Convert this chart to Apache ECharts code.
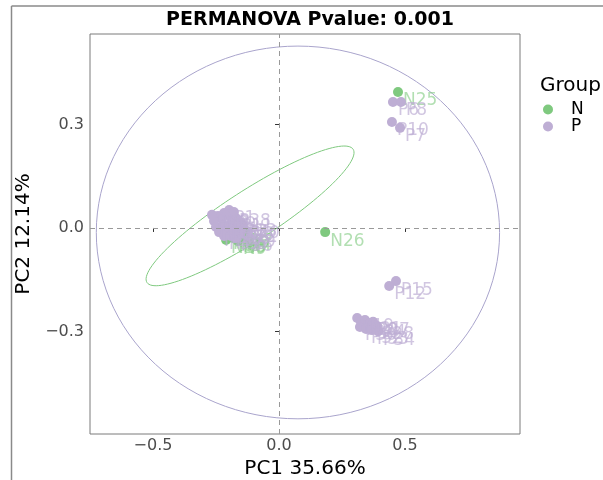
<!DOCTYPE html>
<html>
<head>
<meta charset="utf-8">
<script src="https://cdn.jsdelivr.net/npm/echarts@6/dist/echarts.min.js"></script>
<style>html,body{margin:0;padding:0;background:#fff}#c{width:603px;height:480px}</style>
</head>
<body>
<div id="c"></div>
<script>
// ---- data ----
const groupNames = ['N', 'P'];
const nNames = ['N1','N2','N3','N4','N5','N6','N7','N8','N9','N10','N25','N26'];
const nX = [-0.202,-0.183,-0.163,-0.143,-0.171,-0.151,-0.135,-0.190,-0.163,-0.210, 0.472, 0.183];
const nY = [-0.023,-0.029,-0.032,-0.026,-0.017,-0.020,-0.012,-0.014,-0.038,-0.035, 0.394,-0.012];

const pNames = ['P1','P2','P3','P4','P5','P9','P11','P13','P14','P16','P17','P18','P22','P23','P25','P26','P29','P31','P35','P36','P37','P38','P39','P40',
  'P6','P8','P10','P7','P15','P12',
  'P19','P20','P21','P24','P27','P28','P30','P32','P33','P34'];
const pX = [-0.198,-0.218,-0.242,-0.258,-0.226,-0.194,-0.171,-0.155,-0.250,-0.222,-0.190,-0.167,-0.151,-0.238,-0.210,-0.183,-0.159,-0.218,-0.190,-0.171,-0.202,-0.179,-0.266,-0.143,
  0.452, 0.484, 0.448, 0.480, 0.464, 0.437,
  0.310, 0.325, 0.341, 0.357, 0.373, 0.389, 0.321, 0.345, 0.369, 0.393];
const pY = [ 0.052, 0.043, 0.035, 0.020, 0.026, 0.035, 0.029, 0.017, 0.003, 0.009, 0.014, 0.006,-0.003,-0.012,-0.006,-0.009,-0.017,-0.023,-0.023,-0.029, 0.003, 0.046, 0.038, 0.009,
  0.365, 0.365, 0.307, 0.290,-0.154,-0.168,
 -0.261,-0.272,-0.267,-0.278,-0.272,-0.284,-0.287,-0.293,-0.296,-0.299];

// ellipse of group N (centre, semi-axis vectors in data units)
const nEllipseCenter = [-0.115, 0.035];
const nEllipseAxisA = [0.409, 0.193];
const nEllipseAxisB = [0.054, -0.061];
// outer reference ring (centre, radii in data units)
const ringCenter = [0.075, -0.013];
const ringRadii = [0.80, 0.54];

const xTicks = [-0.5, 0, 0.5];
const yTicks = [-0.3, 0, 0.3];

// ---- chart ----
const colN = '#7FC97F', colP = '#BEAED4';
const FONT = 'DejaVu Sans';
function fmt(v){ const s = Math.abs(v).toFixed(1); return v < 0 ? '\u2212' + s : s; }
function pts(xs, ys, names){ return xs.map((x,i)=>[x, ys[i], names[i]]); }

function ellipseItem(center, a, b, color){
  return {
    type: 'custom', silent: true, z: 1,
    data: [[center[0], center[1]]],
    renderItem: function(params, api){
      const p = [];
      for (let k = 0; k <= 120; k++) {
        const t = k / 120 * Math.PI * 2, c = Math.cos(t), s = Math.sin(t);
        p.push(api.coord([center[0] + c*a[0] + s*b[0], center[1] + c*a[1] + s*b[1]]));
      }
      return { type: 'polyline', shape: { points: p }, style: { fill: null, stroke: color, lineWidth: 1 } };
    }
  };
}

const labelBase = { show: true, position: 'right', distance: 0, offset: [0, 9], fontFamily: FONT, fontSize: 17,
  formatter: p => p.value[2] };

const option = {
  animation: false,
  title: { text: 'PERMANOVA Pvalue: 0.001', left: 305, top: 6, textAlign: 'center',
    textStyle: { fontFamily: FONT, fontSize: 19, fontWeight: 'bold', color: '#000' } },
  legend: { data: groupNames, orient: 'vertical', left: 543, top: 101, itemWidth: 10, itemHeight: 10, itemGap: 0,
    icon: 'circle', padding: 0,
    textStyle: { fontFamily: FONT, fontSize: 17, color: '#000', lineHeight: 15, padding: [0,0,0,13] } },
  graphic: [
    { type: 'text', left: 540, top: 76, style: { text: 'Group', font: '20px "DejaVu Sans"', fill: '#000' } },
    { type: 'line', shape: { x1: 11.5, y1: 6, x2: 603, y2: 6 }, style: { stroke: '#8a8a8a', lineWidth: 1.5 } },
    { type: 'line', shape: { x1: 11.5, y1: 6, x2: 11.5, y2: 480 }, style: { stroke: '#8a8a8a', lineWidth: 1.5 } }
  ],
  grid: { left: 90, right: 83, top: 34, bottom: 46, show: true, borderColor: '#7a7a7a', borderWidth: 1,
    containLabel: false, outerBoundsMode: 'none' },
  xAxis: { type: 'value', min: -0.75, max: 0.956,
    name: 'PC1 35.66%', nameLocation: 'middle', nameGap: 18,
    nameTextStyle: { fontFamily: FONT, fontSize: 20, color: '#000' },
    axisLine: { show: false }, splitLine: { show: false },
    axisTick: { show: true, length: 4, customValues: xTicks, lineStyle: { color: '#333' } },
    axisLabel: { customValues: xTicks, formatter: fmt, fontFamily: FONT, fontSize: 16, color: '#4D4D4D', margin: 4 } },
  yAxis: { type: 'value', min: -0.597, max: 0.562,
    name: 'PC2 12.14%', nameLocation: 'middle', nameGap: 44, nameRotate: 90,
    nameTextStyle: { fontFamily: FONT, fontSize: 20, color: '#000' },
    axisLine: { show: false }, splitLine: { show: false },
    axisTick: { show: true, length: 4, customValues: yTicks, lineStyle: { color: '#333' } },
    axisLabel: { customValues: yTicks, formatter: fmt, fontFamily: FONT, fontSize: 16, color: '#4D4D4D', margin: 6 } },
  series: [
    { type: 'scatter', name: 'ref', data: [], silent: true, z: 0,
      markLine: { silent: true, symbol: 'none', label: { show: false },
        lineStyle: { color: '#999', type: [5, 4], width: 1 },
        data: [{ xAxis: 0 }, { yAxis: 0 }] } },
    ellipseItem(ringCenter, [ringRadii[0], 0], [0, ringRadii[1]], '#a9a4cc'),
    ellipseItem(nEllipseCenter, nEllipseAxisA, nEllipseAxisB, colN),
    { type: 'scatter', name: 'N', data: pts(nX, nY, nNames), symbolSize: 10, itemStyle: { color: colN, opacity: 1 },
      label: Object.assign({}, labelBase, { color: 'rgba(127,201,127,0.6)' }), z: 3 },
    { type: 'scatter', name: 'P', data: pts(pX, pY, pNames), symbolSize: 10, itemStyle: { color: colP, opacity: 1 },
      label: Object.assign({}, labelBase, { color: 'rgba(190,174,212,0.7)' }), z: 4 }
  ]
};
echarts.init(document.getElementById('c')).setOption(option);
</script>
</body>
</html>
